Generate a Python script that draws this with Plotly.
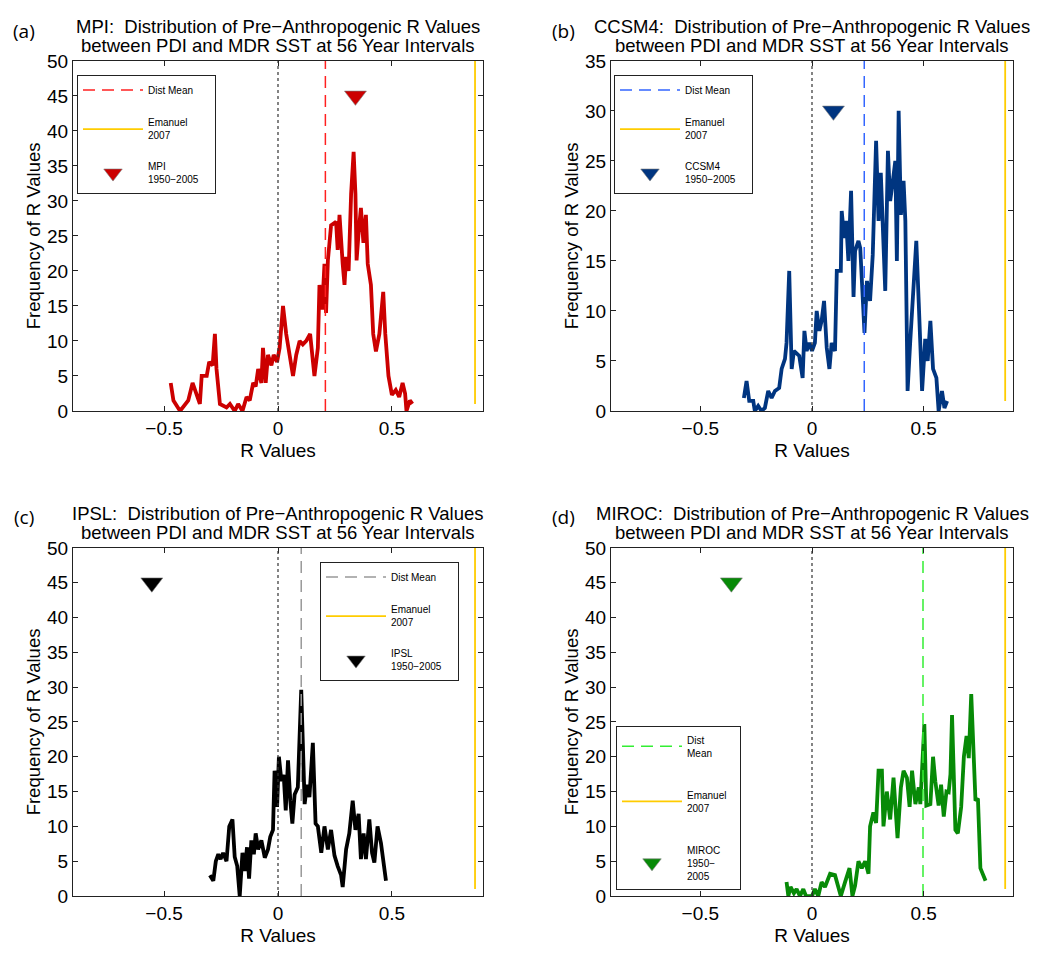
import plotly.graph_objects as go

# ---- MPI ----
mpi_r = [-0.471, -0.459, -0.430, -0.408, -0.394, -0.375, -0.357, -0.343, -0.335, -0.313,
         -0.302, -0.287, -0.277, -0.270, -0.255, -0.226, -0.211, -0.190, -0.175, -0.156,
         -0.138, -0.124, -0.109, -0.098, -0.087, -0.073, -0.066, -0.054, -0.044, -0.029,
         -0.019, -0.004, 0.007, 0.022, 0.036, 0.051, 0.066, 0.080, 0.095, 0.109,
         0.124, 0.141, 0.160, 0.175, 0.182, 0.194, 0.204, 0.211, 0.219, 0.233,
         0.255, 0.262, 0.270, 0.284, 0.292, 0.299, 0.310, 0.321, 0.332, 0.340,
         0.345, 0.354, 0.364, 0.375, 0.386, 0.394, 0.408, 0.418, 0.430, 0.445,
         0.462, 0.471, 0.485, 0.500, 0.517, 0.532, 0.547, 0.558, 0.564, 0.579,
         0.590]
mpi_freq = [4, 1.5, 0, 1, 1.5, 4, 2.5, 1, 5, 5,
            7, 6.5, 11, 6, 1, 0.5, 1, 0, 1, 0,
            2, 1.5, 4, 3.5, 6, 4, 9, 4, 8, 6.5,
            8, 7, 9, 15, 11, 8, 5, 8, 10, 9.5,
            10, 11, 5, 9, 18, 14.5, 21, 14, 21.5, 26.5,
            27, 23, 28, 21, 18, 22, 20, 31, 37, 31,
            21.5, 25.5, 29, 24, 28, 21, 18, 11, 8.5, 11,
            17, 11, 5, 2.3, 3, 2, 4, 2.5, 0, 1.5,
            1]

# ---- CCSM4 ----
ccsm4_r = [-0.305, -0.293, -0.281, -0.263, -0.256, -0.241, -0.226, -0.211, -0.196, -0.181,
           -0.166, -0.147, -0.136, -0.121, -0.114, -0.102, -0.091, -0.081, -0.057, -0.042,
           -0.034, -0.024, -0.012, 0.000, 0.013, 0.021, 0.033, 0.043, 0.054, 0.066,
           0.078, 0.088, 0.103, 0.111, 0.129, 0.133, 0.144, 0.153, 0.163, 0.175,
           0.186, 0.193, 0.208, 0.216, 0.235, 0.246, 0.260, 0.272, 0.287, 0.298,
           0.308, 0.320, 0.328, 0.340, 0.350, 0.362, 0.373, 0.380, 0.388, 0.398,
           0.410, 0.418, 0.428, 0.440, 0.452, 0.467, 0.478, 0.493, 0.507, 0.518,
           0.530, 0.542, 0.557, 0.567, 0.582, 0.593, 0.605]
ccsm4_freq = [1.3, 3, 1, 1, 0, 0.5, 0, 0.3, 2, 1.3,
              2, 2.3, 4.2, 5.2, 6.8, 14, 4.2, 6, 5.5, 3.3,
              8, 6, 6.8, 6, 6.8, 10, 8, 9, 11, 6.3,
              4.2, 6.8, 6, 14, 14, 20, 17.3, 19, 15, 22,
              11.4, 16, 17, 16.3, 7.8, 13, 11, 15.6, 27, 19,
              23.8, 17.3, 12, 26, 21, 23, 25, 15, 30, 19.6,
              23, 19, 2, 7, 11.7, 17, 10.8, 2, 7.2, 5,
              9, 4.2, 3.3, 0, 2, 0.3, 1]

# ---- IPSL ----
ipsl_r = [-0.299, -0.284, -0.273, -0.262, -0.252, -0.241, -0.226, -0.214, -0.200, -0.190,
          -0.179, -0.168, -0.156, -0.146, -0.136, -0.127, -0.117, -0.106, -0.098, -0.087,
          -0.073, -0.058, -0.044, -0.034, -0.022, -0.015, -0.004, 0.004, 0.015, 0.025,
          0.034, 0.044, 0.054, 0.063, 0.073, 0.087, 0.102, 0.109, 0.117, 0.127,
          0.138, 0.153, 0.165, 0.175, 0.190, 0.204, 0.219, 0.233, 0.248, 0.262,
          0.277, 0.284, 0.299, 0.313, 0.328, 0.340, 0.354, 0.364, 0.376, 0.386,
          0.401, 0.413, 0.423, 0.437, 0.452, 0.474]
ipsl_freq = [3, 2.2, 5, 6, 5.3, 6.2, 5, 10, 11, 5.6,
             4.3, 0, 6.2, 3.6, 7, 2.5, 8, 6, 9, 6.7,
             8, 5.5, 6.7, 8.5, 9.5, 18, 12.8, 20, 16.5, 17.4,
             12.3, 19.5, 13.7, 10.4, 14.6, 15.6, 29.6, 23.5, 13.2, 16,
             14.2, 22, 10.4, 10, 6.2, 10, 6.7, 9.5, 5.8, 4.3,
             3, 1.3, 6.7, 9, 13.7, 9.5, 11.8, 5.3, 9, 5.3,
             11, 6.2, 4.8, 10, 7.6, 2.2]

# ---- MIROC ----
miroc_r = [-0.114, -0.106, -0.096, -0.081, -0.069, -0.054, -0.039, -0.027, 0.000, 0.013,
           0.028, 0.043, 0.058, 0.081, 0.103, 0.118, 0.129, 0.148, 0.168, 0.181,
           0.193, 0.208, 0.223, 0.238, 0.253, 0.260, 0.275, 0.287, 0.298, 0.313,
           0.320, 0.335, 0.350, 0.365, 0.383, 0.398, 0.410, 0.425, 0.437, 0.448,
           0.463, 0.478, 0.485, 0.503, 0.512, 0.530, 0.542, 0.552, 0.567, 0.578,
           0.590, 0.602, 0.612, 0.620, 0.627, 0.642, 0.653, 0.668, 0.680, 0.692,
           0.702, 0.713, 0.722, 0.732, 0.743, 0.754, 0.777]
miroc_freq = [2, 0, 1.3, 0.4, 1, 0, 1, 0, 0, 1,
              0, 2, 1.3, 3.2, 3, 1.5, 0, 2, 4, 0,
              1.5, 5, 4, 5, 3.2, 10, 12, 10.5, 18, 18,
              10, 15, 11, 17, 8.3, 15.6, 18, 17, 12.8, 18,
              13.2, 15.6, 13.2, 24.7, 13, 13.2, 20, 16.5, 13, 16,
              11.4, 15, 14.9, 17.5, 26, 9.5, 9, 12.8, 20, 23,
              19.8, 29, 20, 13.7, 14, 4, 2.2]

# Distribution means, observed 1950-2005 R values and the Emanuel (2007) value
model_names = ["MPI", "CCSM4", "IPSL", "MIROC"]
dist_means = [0.208, 0.234, 0.102, 0.497]
observed_r = [0.340, 0.096, -0.554, -0.361]
emanuel_r = 0.865
y_max = [50, 35, 50, 50]

NB = "\u00a0"
panels = [
    dict(r=mpi_r, f=mpi_freq, color="#CC0000", mean_color="#FF2020", obs_y=45, label="(a)",
         obs_text="MPI<br>1950−2005" + NB * 4, mean_text="Dist Mean", gap=15),
    dict(r=ccsm4_r, f=ccsm4_freq, color="#003580", mean_color="#3366FF", obs_y=30, label="(b)",
         obs_text="CCSM4<br>1950−2005" + NB * 4, mean_text="Dist Mean", gap=15),
    dict(r=ipsl_r, f=ipsl_freq, color="#000000", mean_color="#999999", obs_y=45, label="(c)",
         obs_text="IPSL<br>1950−2005" + NB * 4, mean_text="Dist Mean", gap=15),
    dict(r=miroc_r, f=miroc_freq, color="#078A07", mean_color="#33EE33", obs_y=45, label="(d)",
         obs_text="MIROC<br>1950−<br>2005", mean_text="Dist<br>Mean" + NB * 8, gap=26),
]

W, H = 1052, 953
# plot-area pixel boxes (left, right, top, bottom)
boxes = [(73, 483, 52, 410), (611, 1013, 52, 410), (73, 483, 550, 906), (611, 1013, 550, 906)]
legend_pos = [(77, 66), (614, 66), (320, 564), (616, 732)]
label_pos = [(24, 21), (563, 21), (24, 518), (563, 518)]

FONT = "Liberation Sans, Arial, Helvetica, sans-serif"
fig = go.Figure()
layout = dict(width=W, height=H, margin=dict(l=0, r=0, t=0, b=0),
              paper_bgcolor="white", plot_bgcolor="white", showlegend=True,
              font=dict(family=FONT, color="black"))
annotations, shapes = [], []

for i, p in enumerate(panels):
    k = "" if i == 0 else str(i + 1)
    xa, ya = "x" + k, "y" + k
    lg = "legend" + k
    left, right, top, bottom = boxes[i]
    ymax = y_max[i]

    fig.add_trace(go.Scatter(x=p["r"], y=p["f"], mode="lines", xaxis=xa, yaxis=ya,
                             line=dict(color=p["color"], width=3.8), showlegend=False,
                             hoverinfo="x+y"))
    fig.add_trace(go.Scatter(x=[dist_means[i], dist_means[i]], y=[0, ymax], mode="lines",
                             xaxis=xa, yaxis=ya, name=p["mean_text"], legend=lg,
                             legendgroup=f"m{i}",
                             line=dict(color=p["mean_color"], width=1.5, dash="12px,7px")))
    fig.add_trace(go.Scatter(x=[emanuel_r, emanuel_r], y=[1, ymax], mode="lines",
                             xaxis=xa, yaxis=ya, name="Emanuel<br>2007", legend=lg,
                             legendgroup=f"e{i}",
                             line=dict(color="#FFCC00", width=1.8)))
    fig.add_trace(go.Scatter(x=[observed_r[i]], y=[p["obs_y"]], mode="markers",
                             xaxis=xa, yaxis=ya, name=p["obs_text"], legend=lg,
                             legendgroup=f"o{i}",
                             marker=dict(symbol="triangle-down", size=19, color=p["color"],
                                         line=dict(color="#777777", width=0.6))))

    xdom = [left / W, right / W]
    ydom = [1 - bottom / H, 1 - top / H]
    axis_common = dict(showline=True, linecolor="#222222", linewidth=1, mirror="ticks",
                       ticks="inside", ticklen=5, tickcolor="#222222", showgrid=False,
                       zeroline=False, tickfont=dict(size=19, family=FONT, color="black"))
    layout["xaxis" + k] = dict(domain=xdom, range=[-0.9, 0.9], anchor=ya,
                               tickvals=[-0.5, 0, 0.5], ticktext=["−0.5", "0", "0.5"],
                               title=dict(text="R Values", font=dict(size=19), standoff=5),
                               **axis_common)
    layout["yaxis" + k] = dict(domain=ydom, range=[0, ymax], anchor=xa, dtick=5,
                               title=dict(text="Frequency of R Values", font=dict(size=18.5),
                                          standoff=1),
                               **axis_common)

    lx, ly = legend_pos[i]
    layout[lg] = dict(x=lx / W, y=1 - ly / H, xanchor="left", yanchor="top",
                      bordercolor="#222222", borderwidth=1, bgcolor="white",
                      font=dict(size=10, family=FONT, color="black"),
                      tracegroupgap=p["gap"], itemwidth=60, traceorder="grouped")

    # zero reference line
    shapes.append(dict(type="line", xref=xa, yref=ya + " domain", x0=0, x1=0, y0=0, y1=1,
                       line=dict(color="#333333", width=1.2, dash="dot")))

    # two-line title, each line placed separately for tight line spacing
    title_lines = [f"{model_names[i]}:  Distribution of Pre−Anthropogenic R Values",
                   "between PDI and MDR SST at 56 Year Intervals"]
    for t, dy in zip(title_lines, (35, 16)):
        annotations.append(dict(text=t, xref=xa + " domain", yref="paper", x=0.5,
                                y=1 - (top - dy) / H, xanchor="center", yanchor="middle",
                                showarrow=False,
                                font=dict(size=18.5, family=FONT, color="black")))
    px, py = label_pos[i]
    annotations.append(dict(text=p["label"], xref="paper", yref="paper", x=px / W,
                            y=1 - py / H, xanchor="center", yanchor="middle", showarrow=False,
                            font=dict(size=19, family="Open Sans, Lato, sans-serif",
                                      color="black")))

layout["annotations"] = annotations
layout["shapes"] = shapes
fig.update_layout(**layout)
fig.write_html("out.html")
